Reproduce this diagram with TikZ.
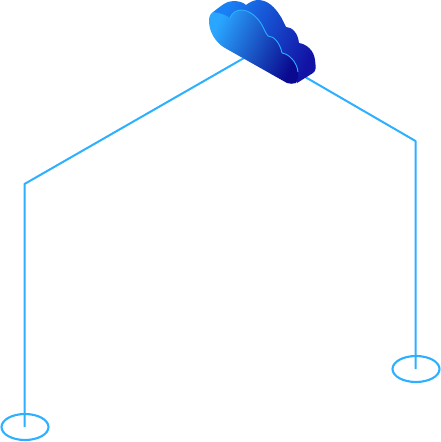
\documentclass[tikz,border=0pt]{standalone}
\definecolor{wire}{HTML}{2CB0FF}
\definecolor{backL}{HTML}{1A80F5}
\definecolor{backM}{HTML}{1766E8}
\definecolor{backR}{HTML}{1212A4}
\definecolor{frontL}{HTML}{2AA6FF}
\definecolor{frontM}{HTML}{1A62E4}
\definecolor{frontR}{HTML}{0A0A90}
\tikzset{wireline/.style={draw=wire,line width=2pt,line join=round},
 padring/.style={draw=wire,line width=2.1pt}}
\begin{document}
\begin{tikzpicture}[x=1pt,y=-1pt]
\useasboundingbox (0,0) rectangle (441,442);
\fill[white] (0,0) rectangle (441,442);
\coordinate (L0) at (244,58);
\coordinate (L1) at (24.5,184);
\coordinate (L2) at (24.5,427);
\coordinate (R0) at (300,74);
\coordinate (R1) at (415.5,141);
\coordinate (R2) at (415.5,369);
\draw[wireline] (L0) -- (L1) -- (L2);
\draw[wireline] (R0) -- (R1) -- (R2);
\draw[padring] (25,427) circle[x radius=23.5,y radius=13];
\draw[padring] (416,369) circle[x radius=23.5,y radius=13];
% back body of the cloud
\shade[left color=backL,middle color=backM,right color=backR,shading angle=65]
 (213,12) .. controls (220,7) and (226,1) .. (233,1)
 .. controls (238,1) and (243,2) .. (246,5)
 .. controls (250,2) and (254,0) .. (258,0)
 .. controls (268,0) and (275,8) .. (279,14)
 .. controls (282,18) and (284,23) .. (286,27)
 .. controls (292,27) and (298,33) .. (299,43)
 .. controls (306,44) and (314,50) .. (315,60)
 .. controls (316,68) and (316,71) .. (313,73)
 -- (297,83) -- (287,60) -- (235,30) -- cycle;
% front face of the cloud
\shade[left color=frontL,middle color=frontM,right color=frontR,shading angle=65]
 (213,12) .. controls (220,13) and (226,15) .. (230,18)
 .. controls (232,13) and (236,10) .. (241,10)
 .. controls (250,10) and (258,18) .. (262,25)
 .. controls (264,29) and (265,32) .. (268,36)
 .. controls (274,36) and (280,43) .. (282,53)
 .. controls (289,54) and (297,62) .. (298,72)
 .. controls (298,77) and (298,80) .. (296,83)
 .. controls (293,84) and (290,84) .. (287,83)
 -- (225,48)
 .. controls (216,43) and (209,32) .. (209,21)
 .. controls (209,17) and (210,14) .. (213,12) -- cycle;
% highlight
\draw[wire,line width=.9pt]
 (230,18) .. controls (232,13) and (236,10) .. (241,10)
 .. controls (250,10) and (258,18) .. (262,25)
 .. controls (264,29) and (265,32) .. (268,36)
 .. controls (274,36) and (280,43) .. (282,53)
 .. controls (289,54) and (297,62) .. (298,72);
\end{tikzpicture}
\end{document}
